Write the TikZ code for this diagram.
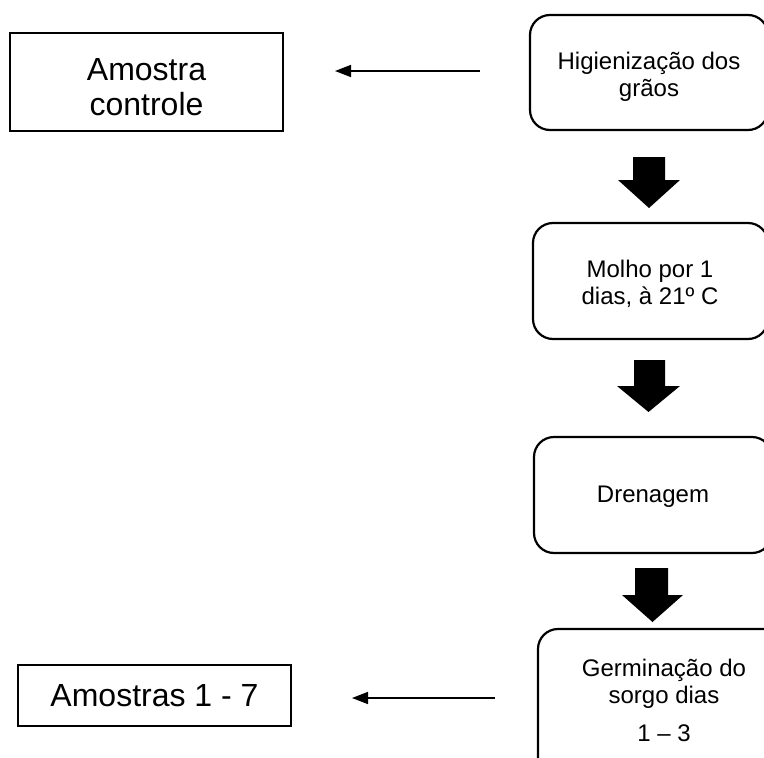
\documentclass[tikz,border=0pt]{standalone}
\usepackage{fontspec}
\setmainfont{Liberation Sans}
\usetikzlibrary{arrows.meta}
\tikzset{
  sqbox/.style={draw=black, line width=1.8pt, rectangle, inner sep=0pt, font=\fontsize{32}{35}\selectfont, align=center},
  rbox/.style={draw=black, line width=2.2pt, rectangle, rounded corners=20pt, inner sep=0pt},
  rtext/.style={font=\fontsize{24}{27.5}\selectfont, align=center, inner sep=0pt},
  thinarrow/.style={line width=1.5pt, -{Triangle[length=16pt,width=12pt]}},
  blockarrow/.style={fill=black, draw=none}
}
\begin{document}
\begin{tikzpicture}[x=1pt,y=-1pt]
\useasboundingbox (0,0) rectangle (764,758);
\clip (0,0) rectangle (764,758);
% left boxes
\node[sqbox, minimum width=273pt, minimum height=98pt] (ctrl) at (146.5,82) {};
\node[font=\fontsize{32}{35}\selectfont, align=center, inner sep=0pt] (ctrlt) at (146.5,87) {Amostra\\controle};
\node[sqbox, minimum width=273pt, minimum height=61pt] (amos) at (154.5,695.5) {Amostras 1 - 7};
% right rounded boxes
\node[rbox, minimum width=238pt, minimum height=115pt] (b1) at (649,72.5) {};
\node[rtext] (t1) at (649,77) {Higienização dos\\grãos};
\node[rbox, minimum width=235pt, minimum height=116pt] (b2) at (650.5,281) {};
\node[rtext] (t2) at (650,284) {Molho por 1\\dias, à 21º C};
\node[rbox, minimum width=238pt, minimum height=116pt] (b3) at (653,495) {};
\node[rtext] (t3) at (653,497) {Drenagem};
\node[rbox, minimum width=262pt, minimum height=160pt] (b4) at (669,709) {};
\node[rtext] (t4) at (664,700) {Germinação do\\sorgo dias\\[10pt]1 -- 3};
% thin arrows with free ends
\coordinate (a1s) at (480,71);
\coordinate (a1e) at (335,71);
\draw[thinarrow] (a1s) -- (a1e);
\coordinate (a2s) at (495,698);
\coordinate (a2e) at (352,698);
\draw[thinarrow] (a2s) -- (a2e);
% block arrows
\fill[blockarrow] (633,157) -- (665,157) -- (665,180) -- (680,180) -- (649,208) -- (618,180) -- (633,180) -- cycle;
\fill[blockarrow] (634,360) -- (665,360) -- (665,386) -- (680,386) -- (648.5,412) -- (617,386) -- (634,386) -- cycle;
\fill[blockarrow] (635,568) -- (668,568) -- (668,595) -- (683,595) -- (652.5,622) -- (622,595) -- (635,595) -- cycle;
\end{tikzpicture}
\end{document}
